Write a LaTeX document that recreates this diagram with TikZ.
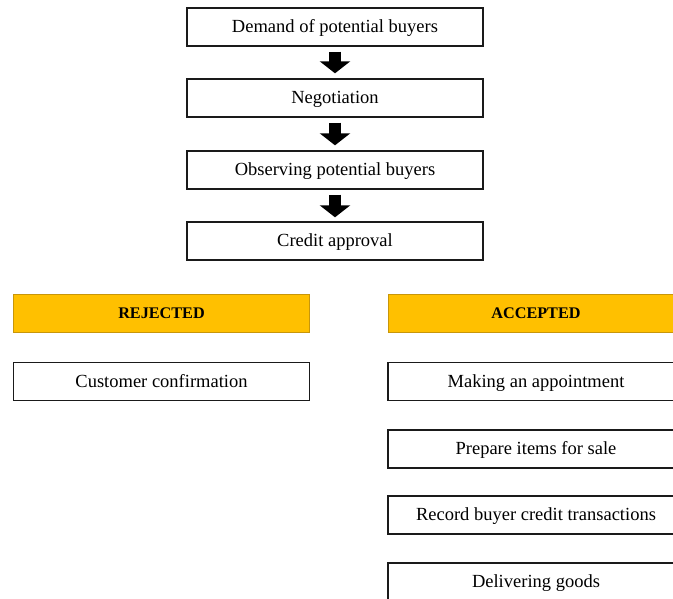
\documentclass[tikz,border=0pt]{standalone}
\usepackage{fontspec}
\setmainfont{Liberation Serif}
\usetikzlibrary{arrows.meta}
\definecolor{gold}{HTML}{FFC000}
\definecolor{golddark}{HTML}{C8960A}
\definecolor{boxline}{HTML}{1A1A1A}
\tikzset{
  stepbox/.style={draw=boxline, line width=1.4pt, fill=white, minimum width=296pt, minimum height=38pt, inner sep=0pt, text height=11.5pt, text depth=0pt, font=\fontsize{18.5}{21}\selectfont},
  headbox/.style={draw=golddark, line width=1pt, fill=gold, minimum width=296pt, minimum height=38pt, inner sep=0pt, text height=11pt, text depth=0pt, font=\fontsize{16.2}{19}\selectfont\bfseries},
  blockarrow/.style={line width=12pt, black, -{Triangle[width=30pt,length=12pt]}}
}
\begin{document}
\begin{tikzpicture}[x=1pt,y=-1pt]
\useasboundingbox (0,0) rectangle (673,598);
\node[stepbox] (b1) at (335,27) {Demand of potential buyers};
\node[stepbox] (b2) at (335,98) {Negotiation};
\node[stepbox] (b3) at (335,170) {Observing potential buyers};
\node[stepbox] (b4) at (335,241) {Credit approval};
\draw[blockarrow] ([yshift=-5pt]b1.south) -- ([yshift=5pt]b2.north);
\draw[blockarrow] ([yshift=-5pt]b2.south) -- ([yshift=5pt]b3.north);
\draw[blockarrow] ([yshift=-5pt]b3.south) -- ([yshift=4pt]b4.north);
\node[headbox] (rej) at (161.5,313) {REJECTED};
\node[headbox] (acc) at (536,313) {ACCEPTED};
\node[stepbox] (cc) at (161.5,381.5) {Customer confirmation};
\node[stepbox] (ma) at (536,381.5) {Making an appointment};
\node[stepbox] (pi) at (536,449) {Prepare items for sale};
\node[stepbox] (rb) at (536,515) {Record buyer credit transactions};
\node[stepbox] (dg) at (536,582) {Delivering goods};
\end{tikzpicture}
\end{document}
